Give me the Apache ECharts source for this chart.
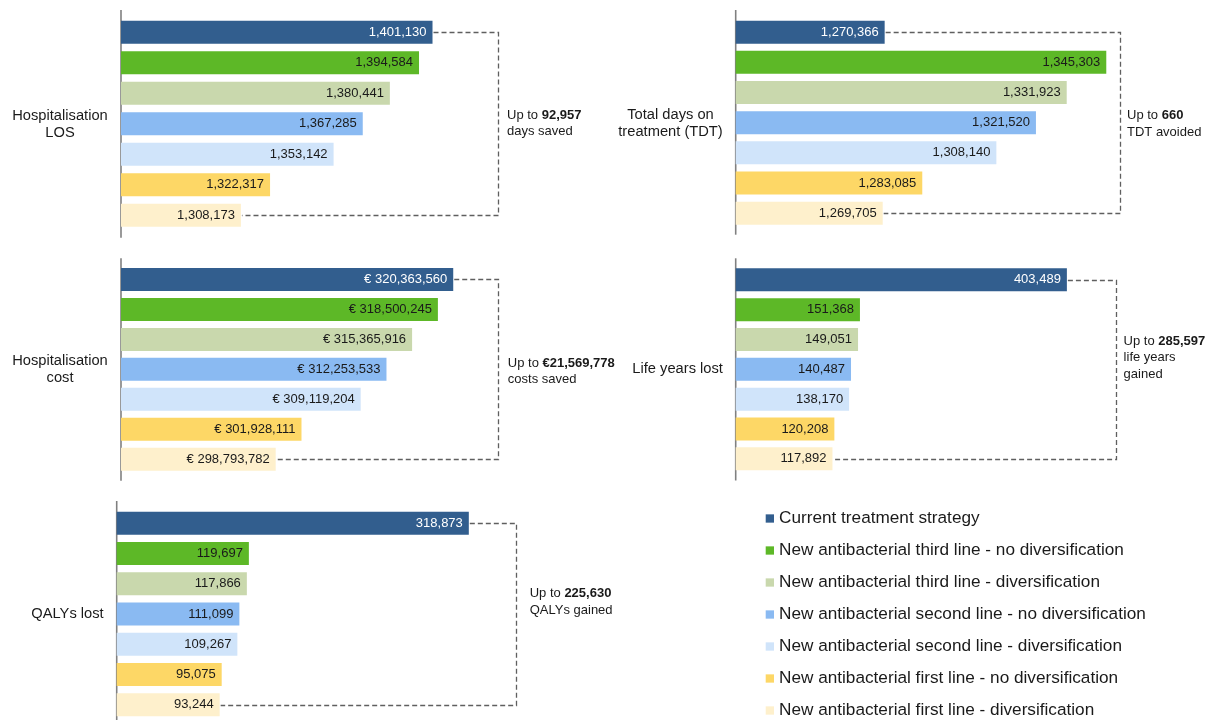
<!DOCTYPE html>
<html>
<head>
<meta charset="utf-8">
<script src="https://cdn.jsdelivr.net/npm/echarts@6/dist/echarts.min.js"></script>
<style>
  html, body { margin: 0; padding: 0; background: #fff; }
  #chart { width: 1213px; height: 720px; }
</style>
</head>
<body>
<div id="chart"></div>
<script>
// ---------- DATA ----------
const strategies = [
  'Current treatment strategy',
  'New antibacterial third line - no diversification',
  'New antibacterial third line - diversification',
  'New antibacterial second line - no diversification',
  'New antibacterial second line - diversification',
  'New antibacterial first line - no diversification',
  'New antibacterial first line - diversification'
];
const panelTitles = ['Hospitalisation\nLOS', 'Total days on\ntreatment (TDT)', 'Hospitalisation\ncost', 'Life years lost', 'QALYs lost'];
const losValues = [1401130, 1394584, 1380441, 1367285, 1353142, 1322317, 1308173];
const tdtValues = [1270366, 1345303, 1331923, 1321520, 1308140, 1283085, 1269705];
const costValues = [320363560, 318500245, 315365916, 312253533, 309119204, 301928111, 298793782];
const lifeYearsValues = [403489, 151368, 149051, 140487, 138170, 120208, 117892];
const qalyValues = [318873, 119697, 117866, 111099, 109267, 95075, 93244];
const labelPrefixes = ['', '', '€ ', '', ''];
const savingsAmounts = ['92,957', '660', '€21,569,778', '285,597', '225,630'];
const savingsUnits = ['days saved', 'TDT avoided', 'costs saved', 'life years\ngained', 'QALYs gained'];
const panelValues = [losValues, tdtValues, costValues, lifeYearsValues, qalyValues];

// ---------- STYLE / LAYOUT ----------
const colors = ['#325E8E', '#5DB827', '#C9D8AD', '#8ABAF2', '#D0E4FA', '#FDD766', '#FEF0CC'];
const labelColors = ['#ffffff', '#1a1a1a', '#1a1a1a', '#1a1a1a', '#1a1a1a', '#1a1a1a', '#1a1a1a'];
const layout = [
  { left: 121,   width: 412.24, min: 1250000,   max: 1450000,   top: 17.1,  height: 213.5, axisTop: 10,    axisBottom: 237.7, bracketX: 497.7,  noteX: 507,    noteY: 123.3, titleX: 60,    titleY: 124.2 },
  { left: 735.7, width: 414.05, min: 1220000,   max: 1360000,   top: 17.1,  height: 211.2, axisTop: 10,    axisBottom: 234.7, bracketX: 1120.2, noteX: 1127,   noteY: 124,   titleX: 670.5, titleY: 123.7 },
  { left: 121,   width: 411.55, min: 280000000, max: 330000000, top: 264.5, height: 209.7, axisTop: 258.3, axisBottom: 480.7, bracketX: 498.4,  noteX: 507.8,  noteY: 371.5, titleX: 60,    titleY: 369.7 },
  { left: 735.7, width: 410.4,  min: 0,         max: 500000,    top: 264.9, height: 208.8, axisTop: 258.3, axisBottom: 480.5, bracketX: 1115.9, noteX: 1123.6, noteY: 357.5, titleX: 677.6, titleY: 369 },
  { left: 116.7, width: 441.7,  min: 0,         max: 400000,    top: 508,   height: 214,   axisTop: 501,   axisBottom: 720,   bracketX: 515.7,  noteX: 529.7,  noteY: 602,   titleX: 67.5,  titleY: 614.3 }
];
const FONT = '"Liberation Sans", Arial, Helvetica, sans-serif';
const fmt = v => Number(v).toLocaleString('en-US');

const grids = [], xAxes = [], yAxes = [], series = [], graphics = [];

layout.forEach((L, p) => {
  grids.push({ left: L.left, top: L.top, width: L.width, height: L.height });
  xAxes.push({ type: 'value', gridIndex: p, min: L.min, max: L.max, show: false });
  yAxes.push({ type: 'category', gridIndex: p, data: strategies, inverse: true, show: false });
  const vals = panelValues[p];
  strategies.forEach((name, i) => {
    series.push({
      type: 'bar', name: name, xAxisIndex: p, yAxisIndex: p,
      barWidth: 23, barGap: '-100%',
      itemStyle: { color: colors[i] },
      label: {
        show: true, position: 'insideRight', distance: 6,
        color: labelColors[i], fontSize: 13, fontFamily: FONT,
        formatter: (prm) => labelPrefixes[p] + fmt(prm.value)
      },
      emphasis: { disabled: true },
      data: vals.map((v, k) => (k === i ? v : '-'))
    });
  });
  // bracket connecting top and bottom bars
  series.push({
    type: 'custom', xAxisIndex: p, yAxisIndex: p, clip: false, silent: true, z: 3,
    encode: { x: [0, 2], y: [1, 3] },
    data: [[vals[0], 0, vals[vals.length - 1], vals.length - 1]],
    renderItem: (params, api) => {
      const a = api.coord([api.value(0), api.value(1)]);
      const b = api.coord([api.value(2), api.value(3)]);
      const bx = Math.round(L.bracketX) + 0.5;
      const ay = Math.round(a[1]) + 0.5, by = Math.round(b[1]) + 0.5;
      return {
        type: 'polyline',
        shape: { points: [[a[0] + 1, ay], [bx, ay], [bx, by], [b[0] + 1, by]] },
        style: { stroke: '#5f5f5f', lineWidth: 1.3, lineDash: [5, 3], fill: null }
      };
    }
  });
  // vertical axis line
  graphics.push({
    type: 'line', silent: true,
    shape: { x1: L.left, y1: L.axisTop, x2: L.left, y2: L.axisBottom },
    style: { stroke: '#808080', lineWidth: 1.6 }
  });
  // panel title
  graphics.push({
    type: 'text', silent: true, x: L.titleX, y: L.titleY,
    style: {
      text: panelTitles[p], fill: '#1a1a1a', font: '14.7px ' + FONT,
      align: 'center', verticalAlign: 'middle', lineHeight: 17
    }
  });
  // annotation
  const unitLines = savingsUnits[p].split('\n').map(s => '{n|' + s + '}').join('\n');
  graphics.push({
    type: 'text', silent: true, x: L.noteX, y: L.noteY,
    style: {
      text: '{n|Up to }{b|' + savingsAmounts[p] + '}\n' + unitLines,
      align: 'left', verticalAlign: 'middle',
      rich: {
        n: { fontSize: 13, fontFamily: FONT, fill: '#1a1a1a', color: '#1a1a1a', lineHeight: 16.5 },
        b: { fontSize: 13, fontFamily: FONT, fontWeight: 'bold', fill: '#1a1a1a', color: '#1a1a1a', lineHeight: 16.5 }
      }
    }
  });
});

const chart = echarts.init(document.getElementById('chart'), null, { renderer: 'canvas' });
chart.setOption({
  animation: false,
  backgroundColor: '#ffffff',
  grid: grids,
  xAxis: xAxes,
  yAxis: yAxes,
  legend: {
    data: strategies,
    orient: 'vertical',
    left: 765.7, top: 509.5,
    padding: 0,
    icon: 'rect', itemWidth: 8.3, itemHeight: 8.3, itemGap: 14,
    selectedMode: false,
    textStyle: { fontSize: 17.2, fontFamily: FONT, color: '#1a1a1a', lineHeight: 18, padding: [0, 0, 0, 0] }
  },
  series: series,
  graphic: graphics
});
</script>
</body>
</html>
